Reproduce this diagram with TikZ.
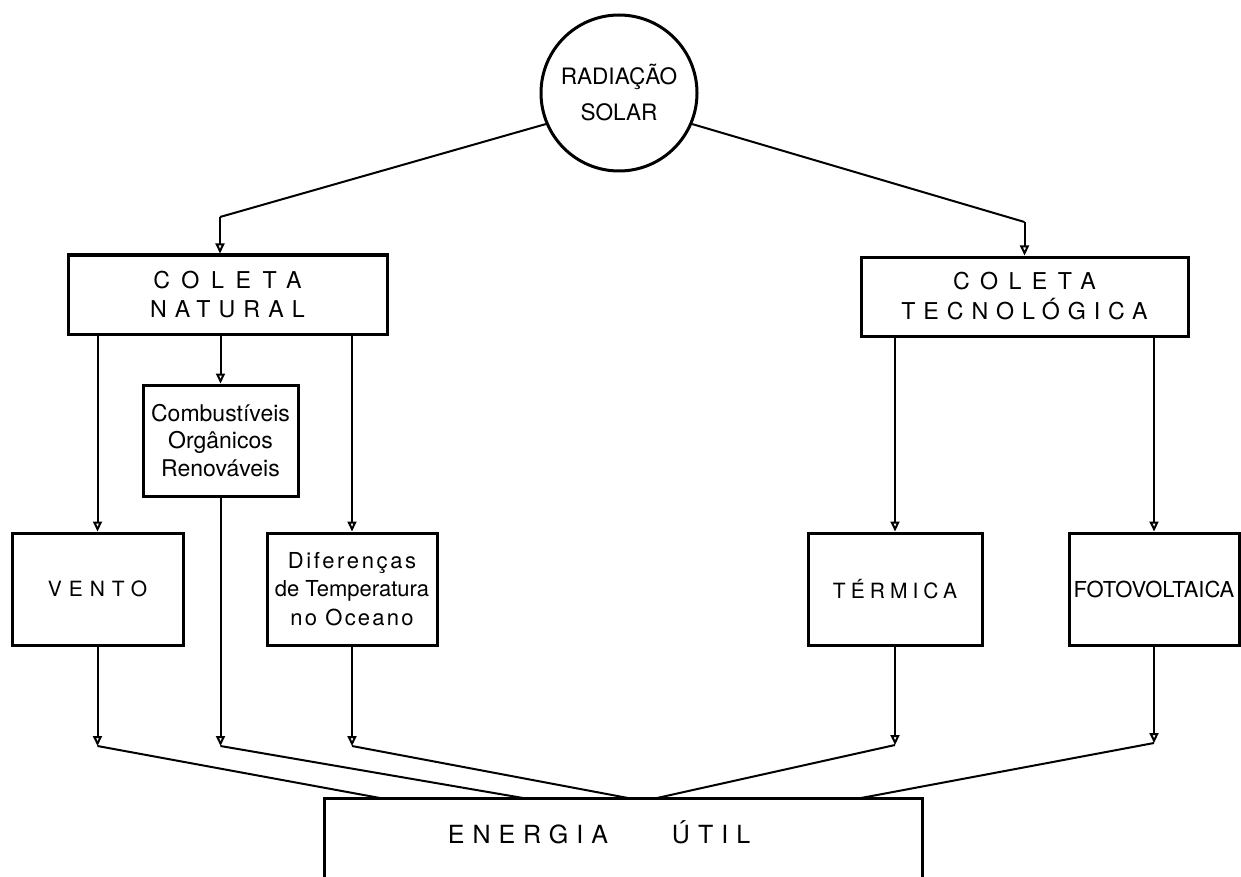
\documentclass[tikz,border=0pt]{standalone}
\usepackage{fontspec}
\setmainfont{TeX Gyre Heros}
\usetikzlibrary{arrows.meta}
\newcommand\trk[2]{{\addfontfeatures{LetterSpace=#1}#2}}
\begin{document}
\begin{tikzpicture}[x=0.5pt,y=-0.5pt,
  box/.style={draw, line width=1.5pt, inner sep=0pt, align=center},
  conn/.style={line width=1pt},
  arr/.style={line width=1pt, -{Triangle[open,length=5pt,width=4.5pt]}},
]
\useasboundingbox (0,0) rectangle (1241,877);
\clip (0,0) rectangle (1241,877);
\fill[white] (0,0) rectangle (1241,877);

% nodes
\node[draw, circle, line width=1.5pt, minimum size=78pt, inner sep=0pt, align=center,
      font=\fontsize{11.3}{18}\selectfont] (circ) at (619,93) {RADIAÇÃO\\SOLAR};

\node[box, minimum width=159.5pt, minimum height=39.5pt,
      font=\fontsize{11.6}{14.5}\selectfont] (natural) at (227.5,294.5)
      {\trk{50}{COLETA}\\\trk{35}{NATURAL}};
\node[box, minimum width=163.5pt, minimum height=39.5pt,
      font=\fontsize{11.6}{15}\selectfont] (tec) at (1024.5,296.5)
      {\trk{45}{COLETA}\\\trk{34}{TECNOLÓGICA}};

\node[box, minimum width=77.5pt, minimum height=55.5pt,
      font=\fontsize{11.5}{13.75}\selectfont] (comb) at (220.5,440.5)
      {Combustíveis\\Orgânicos\\Renováveis};

\node[box, minimum width=85.5pt, minimum height=56pt,
      font=\fontsize{10.5}{13}\selectfont] (vento) at (97.5,589) {\trk{33}{VENTO}};
\node[box, minimum width=85pt, minimum height=56pt,
      font=\fontsize{11}{14.25}\selectfont] (dif) at (352,589)
      {\trk{12}{Diferenças}\\de Temperatura\\\trk{10}{no Oceano}};
\node[box, minimum width=87pt, minimum height=56pt,
      font=\fontsize{10.5}{13}\selectfont] (term) at (895,589) {\trk{24}{TÉRMICA}};
\node[box, minimum width=85pt, minimum height=56pt,
      font=\fontsize{11}{13}\selectfont] (foto) at (1154,589) {FOTOVOLTAICA};

\node[box, minimum width=299pt, minimum height=55pt] (energia) at (623,853.5) {};
\node[font=\fontsize{12.5}{15}\selectfont, inner sep=0pt] (etext) at (599,832)
      {\trk{32}{ENERGIA}\hspace{32pt}\trk{32}{ÚTIL}};

% coordinates
\coordinate (cL) at (220,217);
\coordinate (cR) at (1024.5,222);
\coordinate (cV) at (97.5,746);
\coordinate (cC) at (220.5,746);
\coordinate (cD) at (352,746);
\coordinate (cT) at (895,745);
\coordinate (cF) at (1154,743);
\coordinate (mV) at (380,798);
\coordinate (mC) at (523,798);
\coordinate (mD) at (628,798);
\coordinate (mT) at (657,798);
\coordinate (mF) at (861,798);

% connectors from the sun
\draw[conn] (circ.203) -- (cL);
\draw[arr] (cL) -- (cL |- natural.north);
\draw[conn] (circ.337) -- (cR);
\draw[arr] (cR) -- (cR |- tec.north);

% from collection boxes
\draw[arr] (natural.south -| vento.north) -- (vento.north);
\draw[arr] (natural.south -| comb.north) -- (comb.north);
\draw[arr] (natural.south -| dif.north) -- (dif.north);
\draw[arr] (tec.south -| term.north) -- (term.north);
\draw[arr] (tec.south -| foto.north) -- (foto.north);

% down to useful energy
\draw[arr] (vento.south) -- (cV);
\draw[arr] (comb.south) -- (cC);
\draw[arr] (dif.south) -- (cD);
\draw[arr] (term.south) -- (cT);
\draw[arr] (foto.south) -- (cF);
\draw[conn] (cV) -- (mV);
\draw[conn] (cC) -- (mC);
\draw[conn] (cD) -- (mD);
\draw[conn] (cT) -- (mT);
\draw[conn] (cF) -- (mF);
\end{tikzpicture}
\end{document}
